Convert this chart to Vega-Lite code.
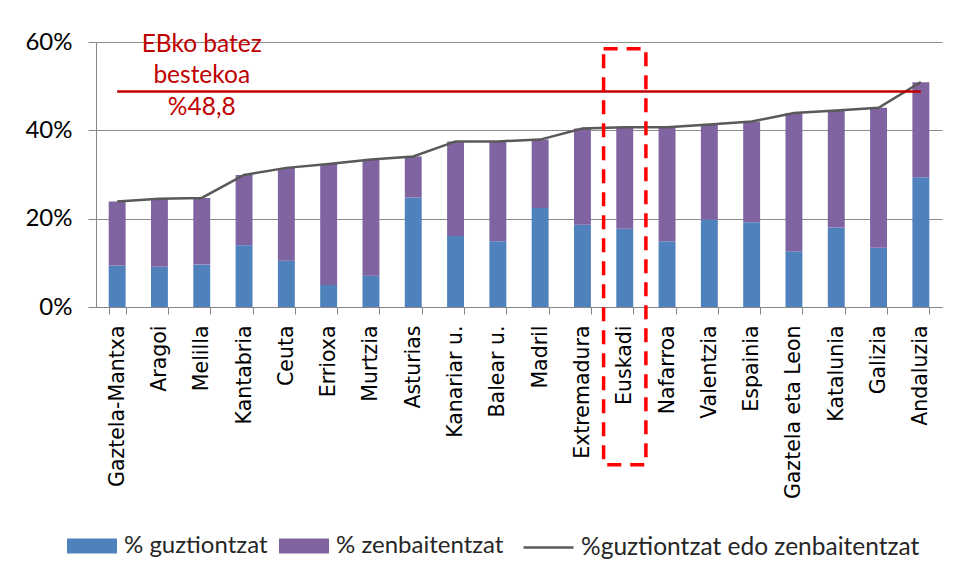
{
  "$schema": "https://vega.github.io/schema/vega-lite/v6.json",
  "width": 846,
  "height": 265,
  "autosize": "none",
  "padding": {"left": 96, "top": 42, "right": 14, "bottom": 274},
  "background": "white",
  "config": {
    "view": {"stroke": null},
    "axis": {"domainColor": "#868686", "tickColor": "#868686", "gridColor": "#8c8c8c", "labelColor": "#000000"}
  },
  "data": {
    "values": [
      {"region": "Gaztela-Mantxa", "guztiontzat": 9.4, "zenbaitentzat": 14.5, "guztiontzat_edo_zenbaitentzat": 23.9},
      {"region": "Aragoi", "guztiontzat": 9.1, "zenbaitentzat": 15.4, "guztiontzat_edo_zenbaitentzat": 24.5},
      {"region": "Melilla", "guztiontzat": 9.6, "zenbaitentzat": 15.1, "guztiontzat_edo_zenbaitentzat": 24.7},
      {"region": "Kantabria", "guztiontzat": 14.0, "zenbaitentzat": 15.9, "guztiontzat_edo_zenbaitentzat": 29.9},
      {"region": "Ceuta", "guztiontzat": 10.5, "zenbaitentzat": 21.0, "guztiontzat_edo_zenbaitentzat": 31.5},
      {"region": "Errioxa", "guztiontzat": 5.0, "zenbaitentzat": 27.4, "guztiontzat_edo_zenbaitentzat": 32.4},
      {"region": "Murtzia", "guztiontzat": 7.1, "zenbaitentzat": 26.3, "guztiontzat_edo_zenbaitentzat": 33.4},
      {"region": "Asturias", "guztiontzat": 24.8, "zenbaitentzat": 9.3, "guztiontzat_edo_zenbaitentzat": 34.1},
      {"region": "Kanariar u.", "guztiontzat": 16.1, "zenbaitentzat": 21.4, "guztiontzat_edo_zenbaitentzat": 37.5},
      {"region": "Balear u.", "guztiontzat": 14.9, "zenbaitentzat": 22.6, "guztiontzat_edo_zenbaitentzat": 37.5},
      {"region": "Madril", "guztiontzat": 22.4, "zenbaitentzat": 15.5, "guztiontzat_edo_zenbaitentzat": 37.9},
      {"region": "Extremadura", "guztiontzat": 18.6, "zenbaitentzat": 21.8, "guztiontzat_edo_zenbaitentzat": 40.4},
      {"region": "Euskadi", "guztiontzat": 17.7, "zenbaitentzat": 23.0, "guztiontzat_edo_zenbaitentzat": 40.7},
      {"region": "Nafarroa", "guztiontzat": 14.9, "zenbaitentzat": 25.8, "guztiontzat_edo_zenbaitentzat": 40.7},
      {"region": "Valentzia", "guztiontzat": 19.8, "zenbaitentzat": 21.5, "guztiontzat_edo_zenbaitentzat": 41.3},
      {"region": "Espainia", "guztiontzat": 19.2, "zenbaitentzat": 22.8, "guztiontzat_edo_zenbaitentzat": 42.0},
      {"region": "Gaztela eta Leon", "guztiontzat": 12.6, "zenbaitentzat": 31.3, "guztiontzat_edo_zenbaitentzat": 43.9},
      {"region": "Katalunia", "guztiontzat": 18.0, "zenbaitentzat": 26.5, "guztiontzat_edo_zenbaitentzat": 44.5},
      {"region": "Galizia", "guztiontzat": 13.4, "zenbaitentzat": 31.7, "guztiontzat_edo_zenbaitentzat": 45.1},
      {"region": "Andaluzia", "guztiontzat": 29.4, "zenbaitentzat": 21.5, "guztiontzat_edo_zenbaitentzat": 50.9}
    ]
  },
  "encoding": {
    "x": {
      "field": "region",
      "type": "nominal",
      "sort": null,
      "scale": {"paddingInner": 0.6, "paddingOuter": 0.3},
      "axis": {
        "title": null,
        "labelAngle": -90,
        "labelAlign": "right",
        "labelBaseline": "middle",
        "labelFont": "DejaVu Sans",
        "labelFontSize": 20.5,
        "labelLimit": 400,
        "labelPadding": 11,
        "tickSize": 7,
        "tickBand": "extent"
      }
    }
  },
  "layer": [
    {
      "transform": [{"fold": ["guztiontzat", "zenbaitentzat"], "as": ["series", "value"]}],
      "mark": {"type": "bar"},
      "encoding": {
        "y": {
          "field": "value",
          "type": "quantitative",
          "stack": "zero",
          "scale": {"domain": [0, 60], "nice": false},
          "axis": {
            "title": null,
            "values": [0, 20, 40, 60],
            "labelExpr": "datum.value + '%'",
            "labelFont": "Lato",
            "labelFontSize": 24,
            "labelPadding": 16,
            "tickSize": 8,
            "grid": true
          }
        },
        "color": {
          "field": "series",
          "type": "nominal",
          "scale": {"domain": ["guztiontzat", "zenbaitentzat"], "range": ["#4f81bd", "#8064a2"]},
          "legend": {
            "title": null,
            "orient": "none",
            "legendX": -29,
            "legendY": 479,
            "direction": "horizontal",
            "padding": 0,
            "symbolType": "M-1,-0.3H1V0.3H-1Z",
            "symbolSize": 2500,
            "symbolStrokeWidth": 0,
            "labelFont": "Lato",
            "labelFontSize": 24,
            "labelColor": "#262626",
            "labelLimit": 600,
            "labelOffset": 7,
            "columnPadding": 11,
            "labelExpr": "'% ' + datum.label"
          }
        },
        "order": {"field": "series"}
      }
    },
    {
      "mark": {"type": "line", "strokeWidth": 2.5},
      "encoding": {
        "y": {"field": "guztiontzat_edo_zenbaitentzat", "type": "quantitative"},
        "stroke": {
          "datum": "%guztiontzat edo zenbaitentzat",
          "scale": {"range": ["#595959"]},
          "legend": {
            "title": null,
            "orient": "none",
            "legendX": 426,
            "legendY": 479,
            "padding": 0,
            "symbolType": "M-1,0H1",
            "symbolSize": 2500,
            "symbolStrokeWidth": 2.5,
            "symbolFillColor": "transparent",
            "labelFont": "Lato",
            "labelFontSize": 24.5,
            "labelColor": "#262626",
            "labelLimit": 600,
            "labelOffset": 6
          }
        }
      }
    },
    {
      "mark": {"type": "line", "color": "#c00000", "strokeWidth": 2.5},
      "encoding": {"y": {"datum": 48.8}}
    },
    {
      "data": {"values": [{"region": "Melilla", "label": "EBko batez\nbestekoa\n%48,8"}]},
      "mark": {"type": "text", "font": "Lato", "fontSize": 24.5, "color": "#c00000", "lineBreak": "\n", "lineHeight": 31.5, "baseline": "middle", "align": "center"},
      "encoding": {"text": {"field": "label"}, "y": {"datum": 59.4}}
    },
    {
      "data": {"values": [{"region": "Euskadi"}]},
      "mark": {"type": "bar", "fill": "transparent", "stroke": "#ff0000", "strokeWidth": 3.5, "strokeDash": [14, 9], "width": {"band": 2.5}},
      "encoding": {"y": {"datum": 58.5}, "y2": {"datum": -35.7}}
    }
  ]
}
